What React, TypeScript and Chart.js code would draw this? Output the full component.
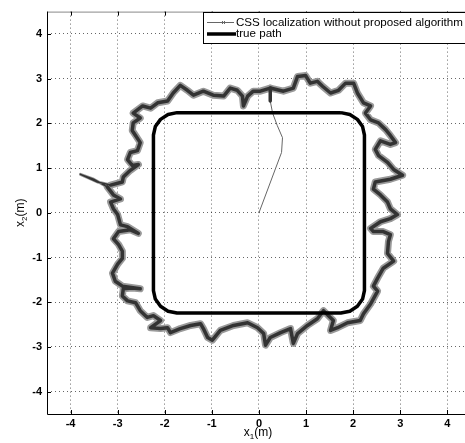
import React, { useEffect, useRef } from "react";
import { Chart, registerables } from "chart.js";

Chart.register(...registerables);

// Start of the CSS trajectory (thin line from origin to the loop)
const startX = [0, 0.48, 0.5, 0.39, 0.29, 0.24];
const startY = [0, 1.35, 1.68, 1.95, 2.23, 2.5];

// Noisy CSS localization loop
const loopX = [
  0.24, 0.52, 0.73, 0.82, 0.99, 1.09, 1.24, 1.35, 1.52, 1.69,
  1.84, 2.01, 2.09, 2.22, 2.37, 2.26, 2.37, 2.54, 2.69, 2.79,
  2.9, 2.79, 2.58, 2.47, 2.54, 2.73, 2.86, 3.05, 2.79, 2.47,
  2.43, 2.58, 2.73, 2.79, 2.94, 2.79, 2.58, 2.37, 2.43, 2.64,
  2.79, 2.75, 2.73, 2.86, 2.64, 2.52, 2.43, 2.52, 2.37, 2.22,
  2.15, 1.88, 1.67, 1.52, 1.58, 1.37, 1.24, 1.03, 0.82, 0.73,
  0.67, 0.46, 0.24, 0.14, 0.1, -0.03, -0.24, -0.54, -0.82, -0.99,
  -1.09, -1.18, -1.24, -1.45, -1.67, -1.88, -1.94, -2.09, -2.3, -2.09,
  -2.24, -2.37, -2.52, -2.62, -2.79, -2.9, -2.88, -2.69, -2.52, -2.9,
  -3.05, -3.11, -3.0, -2.9, -2.9, -2.98, -3.09, -2.98, -2.73, -2.56,
  -2.79, -2.94, -3.0, -3.09, -3.15, -2.94, -3.09, -3.22, -3.51, -3.79,
  -3.43, -3.15, -2.9, -2.88, -2.73, -2.56, -2.69, -2.79, -2.73, -2.58,
  -2.52, -2.62, -2.69, -2.67, -2.52, -2.67, -2.47, -2.3, -2.15, -1.94,
  -1.82, -1.67, -1.52, -1.39, -1.18, -0.97, -0.75, -0.61, -0.46, -0.35,
  -0.33, -0.24, -0.12, 0.03, 0.24,
];
const loopY = [
  2.79, 2.72, 2.79, 3.05, 3.07, 2.9, 2.94, 2.83, 2.68, 2.74,
  2.9, 2.9, 2.68, 2.46, 2.39, 2.23, 2.08, 2.01, 1.86, 1.73,
  1.57, 1.53, 1.61, 1.42, 1.28, 1.13, 0.97, 0.84, 0.75, 0.69,
  0.53, 0.4, 0.24, 0.09, -0.04, -0.13, -0.2, -0.35, -0.42, -0.42,
  -0.49, -0.64, -0.91, -1.08, -1.24, -1.46, -1.64, -1.75, -2.04, -2.26,
  -2.41, -2.46, -2.57, -2.63, -2.41, -2.19, -2.37, -2.52, -2.7, -2.92,
  -2.59, -2.68, -2.79, -2.96, -2.7, -2.57, -2.46, -2.52, -2.63, -2.85,
  -2.79, -2.59, -2.48, -2.52, -2.59, -2.68, -2.57, -2.59, -2.57, -2.41,
  -2.3, -2.34, -2.19, -2.01, -1.97, -1.86, -1.7, -1.68, -1.7, -1.64,
  -1.53, -1.35, -1.15, -1.02, -0.86, -0.71, -0.58, -0.42, -0.38, -0.46,
  -0.31, -0.27, -0.04, 0.09, 0.24, 0.31, 0.4, 0.58, 0.75, 0.86,
  0.69, 0.62, 0.69, 0.8, 0.95, 1.08, 1.06, 1.19, 1.35, 1.39,
  1.57, 1.73, 1.84, 2.01, 2.12, 2.23, 2.39, 2.34, 2.46, 2.5,
  2.68, 2.85, 2.74, 2.63, 2.72, 2.63, 2.61, 2.79, 2.74, 2.61,
  2.39, 2.61, 2.72, 2.72, 2.79,
];

// True path: rounded square
const trueX = [
  1.74, 1.93, 2.09, 2.2, 2.24,
  2.24, 2.2, 2.09, 1.93, 1.74,
  -1.74, -1.93, -2.09, -2.2, -2.24,
  -2.24, -2.2, -2.09, -1.93, -1.74,
  1.74,
];
const trueY = [
  2.24, 2.2, 2.09, 1.93, 1.74,
  -1.74, -1.93, -2.09, -2.2, -2.24,
  -2.24, -2.2, -2.09, -1.93, -1.74,
  1.74, 1.93, 2.09, 2.2, 2.24,
  2.24,
];

const xTicks = [-4, -3, -2, -1, 0, 1, 2, 3, 4];
const yTicks = [-4, -3, -2, -1, 0, 1, 2, 3, 4];
const legendLabels = ["CSS localization without proposed algorithm", "true path"];

const FONT = "'Liberation Sans', Arial, Helvetica, sans-serif";

const cssX = [...startX, ...loopX];
const cssY = [...startY, ...loopY];
const SPIKE_FROM = startX.length + 107;
const SPIKE_TO = startX.length + 111;
const LOOP_SPIKE_FROM = 107;
const LOOP_SPIKE_TO = 111;

function drawSubLabel(ctx: CanvasRenderingContext2D, base: string, sub: string, rest: string, cx: number, cy: number) {
  ctx.font = `12px ${FONT}`;
  const w1 = ctx.measureText(base).width;
  const w3 = ctx.measureText(rest).width;
  ctx.font = `8px ${FONT}`;
  const w2 = ctx.measureText(sub).width;
  const total = w1 + w2 + w3;
  const x0 = cx - total / 2;
  ctx.textBaseline = "alphabetic";
  ctx.textAlign = "left";
  ctx.fillStyle = "#000";
  ctx.font = `12px ${FONT}`;
  ctx.fillText(base, x0, cy + 4);
  ctx.font = `8px ${FONT}`;
  ctx.fillText(sub, x0 + w1, cy + 7);
  ctx.font = `12px ${FONT}`;
  ctx.fillText(rest, x0 + w1 + w2, cy + 4);
}

const decorPlugin = {
  id: "decor",
  afterDraw(chart: any) {
    const { ctx, chartArea } = chart;
    const { left, top, right, bottom } = chartArea;
    const xs = chart.scales.x;
    const ys = chart.scales.y;
    ctx.save();
    // frame
    ctx.lineWidth = 1;
    ctx.strokeStyle = "#888";
    ctx.beginPath();
    ctx.moveTo(left, top + 0.5);
    ctx.lineTo(right, top + 0.5);
    ctx.stroke();
    ctx.strokeStyle = "#000";
    ctx.beginPath();
    ctx.moveTo(left + 0.5, top);
    ctx.lineTo(left + 0.5, bottom + 0.5);
    ctx.lineTo(right, bottom + 0.5);
    ctx.stroke();
    // inward ticks
    ctx.beginPath();
    xTicks.forEach((v) => {
      const px = Math.round(xs.getPixelForValue(v)) + 0.5;
      ctx.moveTo(px, bottom);
      ctx.lineTo(px, bottom - 4);
      ctx.moveTo(px, top);
      ctx.lineTo(px, top + 4);
    });
    yTicks.forEach((v) => {
      const py = Math.round(ys.getPixelForValue(v)) + 0.5;
      ctx.moveTo(left, py);
      ctx.lineTo(left + 4, py);
    });
    ctx.stroke();

    // legend
    const bx = 203, by = 12, bw = right - bx + 2, bh = 31;
    ctx.fillStyle = "#fff";
    ctx.fillRect(bx, by, bw, bh);
    ctx.strokeStyle = "#000";
    ctx.strokeRect(bx + 0.5, by + 0.5, bw, bh);
    const r1 = 22.5, r2 = 34;
    // CSS sample
    ctx.strokeStyle = "#666";
    ctx.lineWidth = 1;
    ctx.beginPath();
    ctx.moveTo(207, r1);
    ctx.lineTo(234, r1);
    ctx.stroke();
    ctx.beginPath();
    ctx.moveTo(222, r1 - 1.5);
    ctx.lineTo(225, r1 + 1.5);
    ctx.moveTo(222, r1 + 1.5);
    ctx.lineTo(225, r1 - 1.5);
    ctx.stroke();
    // true path sample
    ctx.strokeStyle = "#000";
    ctx.lineWidth = 3.5;
    ctx.beginPath();
    ctx.moveTo(207, r2);
    ctx.lineTo(236, r2);
    ctx.stroke();
    ctx.fillStyle = "#000";
    ctx.font = `11.6px ${FONT}`;
    ctx.textAlign = "left";
    ctx.textBaseline = "middle";
    ctx.fillText(legendLabels[0], 236, r1);
    ctx.fillText(legendLabels[1], 236, r2);

    // axis titles
    drawSubLabel(ctx, "x", "1", "(m)", xs.getPixelForValue(0) - 1, 432);
    ctx.save();
    ctx.translate(20, ys.getPixelForValue(0));
    ctx.rotate(-Math.PI / 2);
    drawSubLabel(ctx, "x", "2", "(m)", 0, 0);
    ctx.restore();
    ctx.restore();
  },
};

export default function App() {
  const ref = useRef<HTMLCanvasElement | null>(null);
  useEffect(() => {
    if (!ref.current) return;
    const chart = new Chart(ref.current, {
      type: "scatter",
      data: {
        datasets: [
          {
            label: legendLabels[1],
            data: trueX.map((x, i) => ({ x, y: trueY[i] })),
            showLine: true,
            borderColor: "#000",
            borderWidth: 3.5,
            borderJoinStyle: "round",
            pointRadius: 0,
            order: 1,
          },
          {
            label: legendLabels[0],
            data: cssX.map((x, i) => ({ x, y: cssY[i] })),
            showLine: true,
            borderColor: "#333",
            borderWidth: 3.5,
            borderJoinStyle: "round",
            borderCapStyle: "round",
            pointRadius: 0,
            order: 2,
            segment: {
              borderWidth: (c: any) =>
                c.p0DataIndex < startX.length - 1
                  ? 1
                  : c.p0DataIndex >= SPIKE_FROM && c.p0DataIndex < SPIKE_TO
                  ? 1.5
                  : 3.5,
              borderColor: (c: any) =>
                c.p0DataIndex < startX.length - 1 ? "#666" : "#333",
            },
          } as any,
          {
            label: "halo",
            data: loopX.map((x, i) => ({ x, y: loopY[i] })),
            showLine: true,
            borderColor: "#9a9a9a",
            borderWidth: 7,
            borderJoinStyle: "round",
            borderCapStyle: "round",
            pointRadius: 0,
            order: 3,
            segment: {
              borderWidth: (c: any) =>
                c.p0DataIndex >= LOOP_SPIKE_FROM && c.p0DataIndex < LOOP_SPIKE_TO ? 3 : 7,
            },
          } as any,
        ],
      },
      options: {
        animation: false,
        responsive: true,
        maintainAspectRatio: false,
        layout: { padding: { top: 9, left: 0, right: 0, bottom: 0 } },
        plugins: { legend: { display: false }, tooltip: { enabled: false } },
        scales: {
          x: {
            type: "linear",
            min: -4.5,
            max: 4.375,
            afterFit: (s: any) => {
              s.height = 29;
            },
            afterBuildTicks: (s: any) => {
              s.ticks = xTicks.map((v) => ({ value: v }));
            },
            ticks: {
              includeBounds: false,
              color: "#000",
              font: { family: FONT, size: 11, weight: "bold" },
              padding: 3,
              maxRotation: 0,
              autoSkip: false,
            },
            grid: { color: "rgba(0,0,0,0.6)", drawTicks: false, lineWidth: 1 },
            border: { display: false, dash: [1, 3] },
          },
          y: {
            type: "linear",
            min: -4.5,
            max: 4.5,
            afterFit: (s: any) => {
              s.width = 47;
            },
            afterBuildTicks: (s: any) => {
              s.ticks = yTicks.map((v) => ({ value: v }));
            },
            ticks: {
              includeBounds: false,
              color: "#000",
              font: { family: FONT, size: 11, weight: "bold" },
              padding: 5,
              autoSkip: false,
            },
            grid: { color: "rgba(0,0,0,0.6)", drawTicks: false, lineWidth: 1 },
            border: { display: false, dash: [1, 3] },
          },
        },
      } as any,
      plugins: [decorPlugin],
    });
    return () => chart.destroy();
  }, []);
  return (
    <div style={{ position: "absolute", left: 0, top: 0, width: 465, height: 443, background: "#fff" }}>
      <canvas ref={ref} />
    </div>
  );
}
